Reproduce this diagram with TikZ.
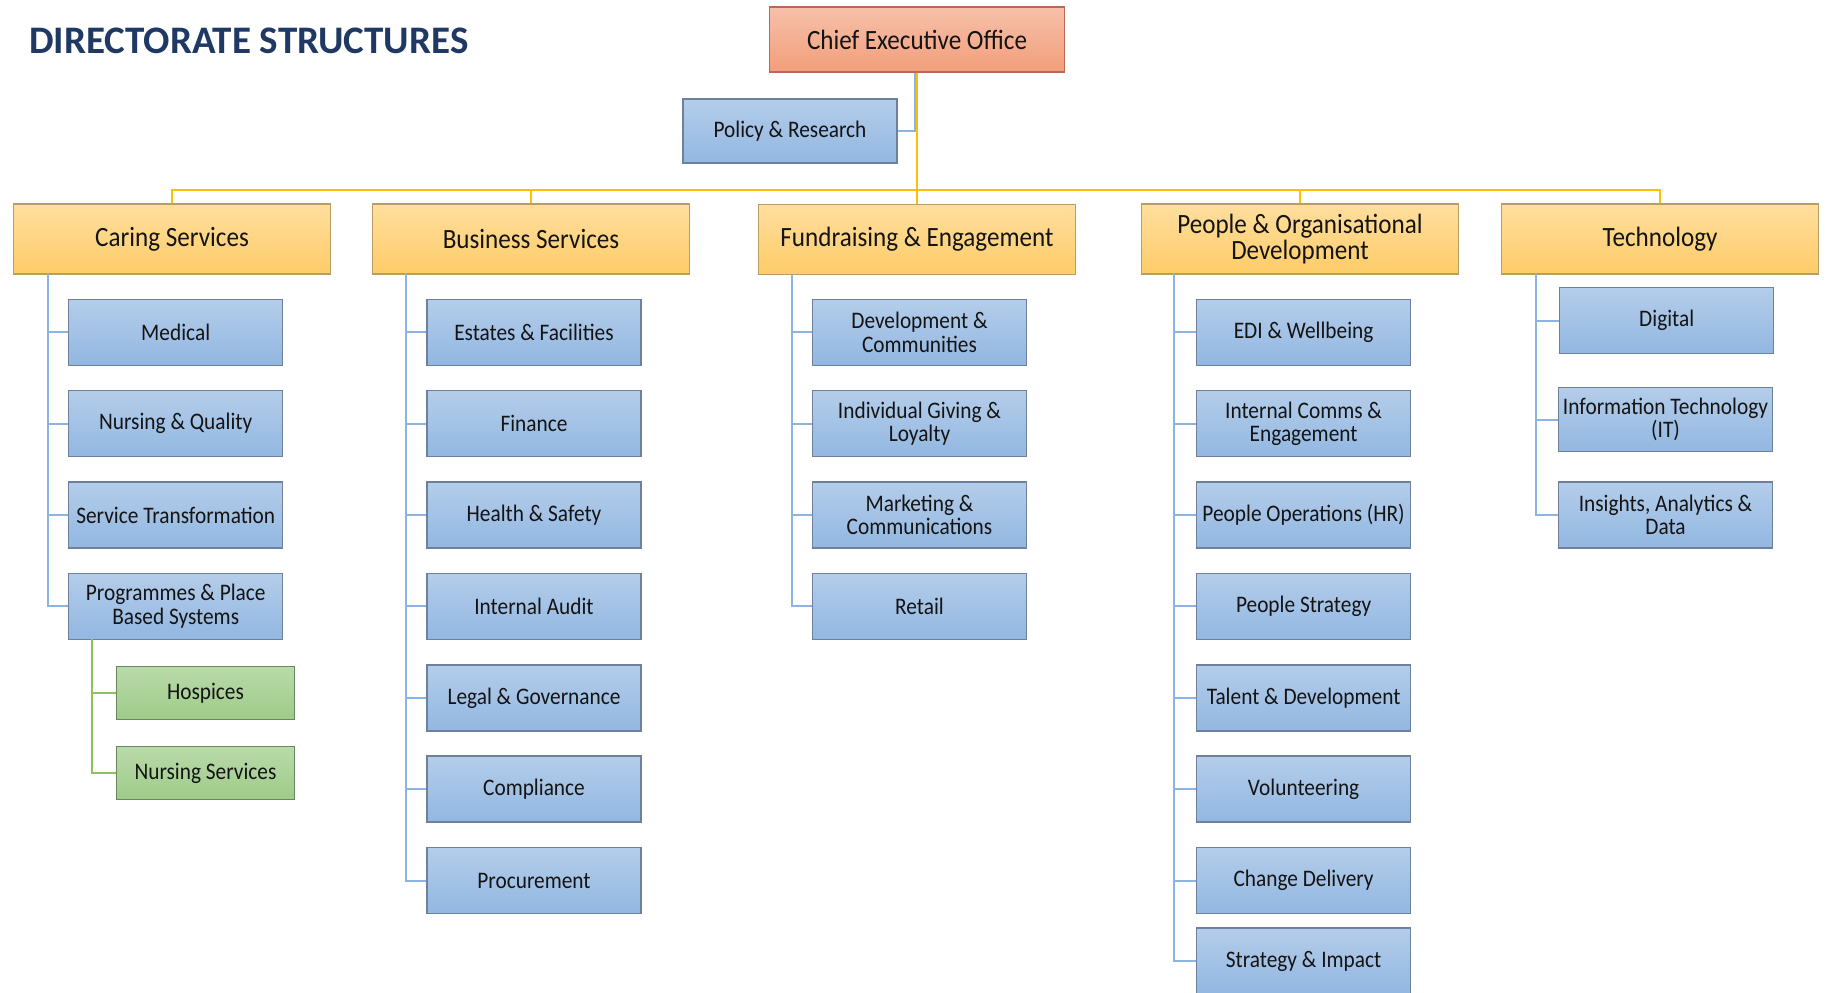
\documentclass[tikz,border=0pt]{standalone}
\usepackage{fontspec}
\setmainfont{Carlito}[FakeStretch=0.9]
\newfontfamily\titlefont{Carlito}
\definecolor{navy}{RGB}{31,56,100}
\definecolor{txt}{RGB}{20,20,20}
\definecolor{ceoT}{RGB}{247,192,170}
\definecolor{ceoB}{RGB}{242,158,122}
\definecolor{ceoD}{RGB}{185,105,85}
\definecolor{hdrT}{RGB}{255,222,158}
\definecolor{hdrB}{RGB}{254,204,104}
\definecolor{hdrD}{RGB}{185,158,100}
\definecolor{bluT}{RGB}{180,205,234}
\definecolor{bluB}{RGB}{146,183,225}
\definecolor{bluD}{RGB}{110,128,155}
\definecolor{grnT}{RGB}{186,218,170}
\definecolor{grnB}{RGB}{158,203,136}
\definecolor{grnD}{RGB}{105,135,95}
\definecolor{lnY}{RGB}{255,192,0}
\definecolor{lnB}{RGB}{140,180,226}
\definecolor{lnG}{RGB}{140,195,90}
\begin{document}
\begin{tikzpicture}[x=0.5pt,y=-0.5pt,
  box/.style={draw=bluD, line width=0.7pt, top color=bluT, bottom color=bluB,
    minimum width=107pt, minimum height=33pt, inner sep=1pt, align=center,
    text=txt, font=\fontsize{11.85}{11.75}\selectfont},
  gbox/.style={box, draw=grnD, top color=grnT, bottom color=grnB,
    minimum width=89pt, minimum height=26.5pt},
  hdr/.style={draw=hdrD, line width=0.7pt, top color=hdrT, bottom color=hdrB,
    minimum width=158.5pt, minimum height=35pt, inner sep=1pt, align=center,
    text=txt, font=\fontsize{13.95}{13.4}\selectfont},
  ceobox/.style={hdr, draw=ceoD, top color=ceoT, bottom color=ceoB,
    minimum width=147.5pt, minimum height=32.5pt},
  yl/.style={draw=lnY, line width=1pt},
  bl/.style={draw=lnB, line width=1pt},
  gl/.style={draw=lnG, line width=1pt}]
\useasboundingbox (0,0) rectangle (1825,992);

% title
\node[anchor=west, inner sep=0pt, text=navy,
  font=\titlefont\bfseries\fontsize{19.5}{23}\selectfont] (title) at (29,41) {DIRECTORATE STRUCTURES};

% top
\node[ceobox] (ceo) at (917,39.5) {Chief Executive Office};
\node[box, minimum height=32pt] (pol) at (790,131) {Policy \& Research};

% directorates
\node[hdr] (care) at (172,239) {Caring Services};
\node[hdr] (bus) at (531,239) {Business Services};
\node[hdr] (fund) at (917,239.5) {Fundraising \& Engagement};
\node[hdr] (pod) at (1300,239) {People \& Organisational\\Development};
\node[hdr] (tech) at (1660,239) {Technology};

% Caring Services
\node[box] (c1) at (175.7,332.3) {Medical};
\node[box] (c2) at (175.7,423.7) {Nursing \& Quality};
\node[box] (c3) at (175.7,515.0) {Service Transformation};
\node[box] (c4) at (175.7,606.4) {Programmes \& Place\\Based Systems};
\node[gbox] (g1) at (205.5,693) {Hospices};
\node[gbox] (g2) at (205.5,773) {Nursing Services};

% Business Services
\node[box] (b1) at (534,332.3) {Estates \& Facilities};
\node[box] (b2) at (534,423.7) {Finance};
\node[box] (b3) at (534,515.0) {Health \& Safety};
\node[box] (b4) at (534,606.4) {Internal Audit};
\node[box] (b5) at (534,697.8) {Legal \& Governance};
\node[box] (b6) at (534,789.1) {Compliance};
\node[box] (b7) at (534,880.5) {Procurement};

% Fundraising
\node[box] (f1) at (919.5,332.3) {Development \&\\Communities};
\node[box] (f2) at (919.5,423.7) {Individual Giving \&\\Loyalty};
\node[box] (f3) at (919.5,515.0) {Marketing \&\\Communications};
\node[box] (f4) at (919.5,606.4) {Retail};

% People
\node[box] (p1) at (1303.6,332.3) {EDI \& Wellbeing};
\node[box] (p2) at (1303.6,423.7) {Internal Comms \&\\Engagement};
\node[box] (p3) at (1303.6,515.0) {People Operations (HR)};
\node[box] (p4) at (1303.6,606.4) {People Strategy};
\node[box] (p5) at (1303.6,697.8) {Talent \& Development};
\node[box] (p6) at (1303.6,789.1) {Volunteering};
\node[box] (p7) at (1303.6,880.5) {Change Delivery};
\node[box] (p8) at (1303.6,961) {Strategy \& Impact};

% Technology
\node[box] (t1) at (1666.7,320.7) {Digital};
\node[box, minimum height=32pt] (t2) at (1665.5,419.6) {Information Technology\\(IT)};
\node[box] (t3) at (1665.5,515.0) {Insights, Analytics \&\\Data};

% connectors
\coordinate (bar) at (0,190);
\draw[bl] ([xshift=-1pt]ceo.south) |- (pol.east);
\draw[yl] (ceo.south) -- (fund.north);
\draw[yl] (care.north) -- (care.north |- bar) -- (tech.north |- bar) -- (tech.north);
\draw[yl] (bus.north) -- (bus.north |- bar);
\draw[yl] (pod.north) -- (pod.north |- bar);

\coordinate (cs) at (47.5,273.5);
\foreach \n in {c1,c2,c3,c4} \draw[bl] (cs) |- (\n.west);
\coordinate (gs) at (92,639.4);
\foreach \n in {g1,g2} \draw[gl] (gs) |- (\n.west);
\coordinate (bs) at (406,273.5);
\foreach \n in {b1,b2,b3,b4,b5,b6,b7} \draw[bl] (bs) |- (\n.west);
\coordinate (fs) at (791.5,275);
\foreach \n in {f1,f2,f3,f4} \draw[bl] (fs) |- (\n.west);
\coordinate (ps) at (1174,273.5);
\foreach \n in {p1,p2,p3,p4,p5,p6,p7,p8} \draw[bl] (ps) |- (\n.west);
\coordinate (ts) at (1536,273.5);
\foreach \n in {t1,t2,t3} \draw[bl] (ts) |- (\n.west);
\end{tikzpicture}
\end{document}
